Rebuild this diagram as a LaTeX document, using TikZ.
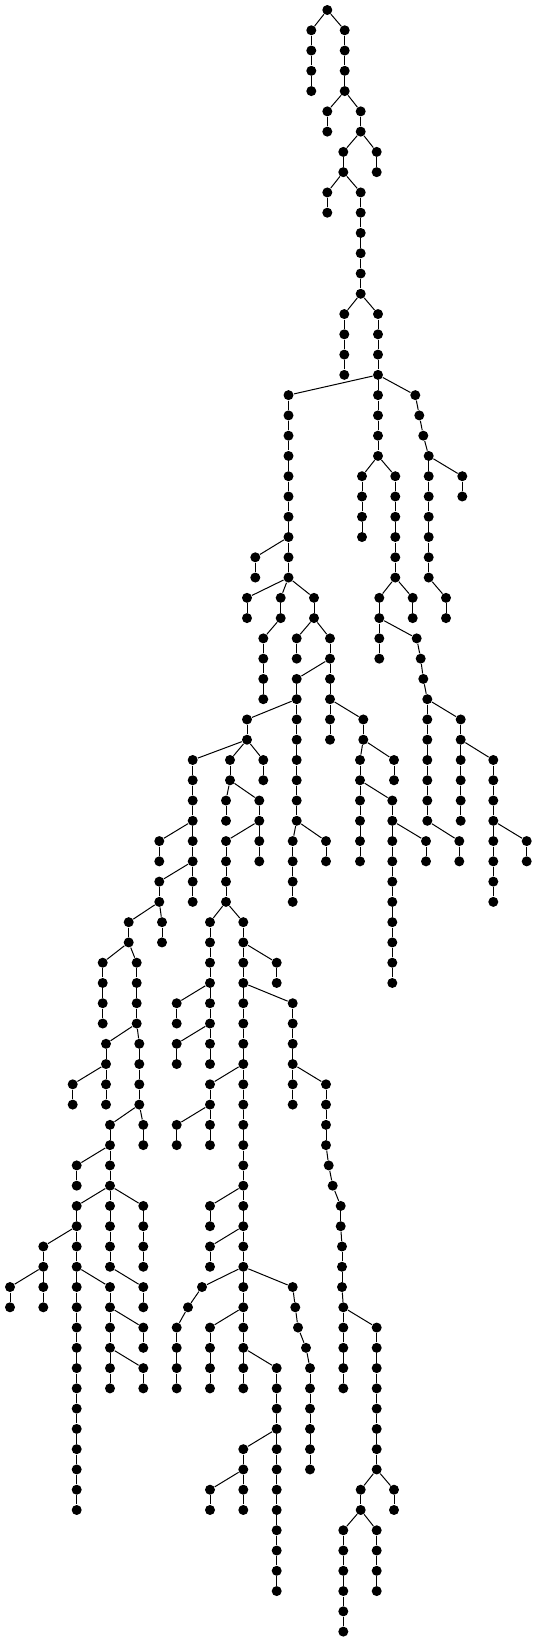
\documentclass[tikz,border=0pt]{standalone}
\begin{document}
\begin{tikzpicture}[x=1pt, y=-20.27pt, line width=1pt,
  dot/.style={circle, fill=black, inner sep=0pt, minimum size=10pt}]
\useasboundingbox (0pt,10pt) rectangle (536pt,-1632pt);
\node[dot] (r) at (327.3,0) {};
\foreach \n/\x/\a/\b/\p in {
  a/311.3/1/4/r, b/344.7/1/4/r, c/327.3/5/6/b4, d/360.7/5/6/b4,
  e/376.7/7/8/d6, f/343.3/7/8/d6, g/327.3/9/10/f8, h/360.7/9/14/f8,
  i/344.3/15/18/h14, j/378/15/18/h14,
  k/288.5/19/28/j18, m/378/19/22/j18,
  p/415.3/19/19/j18, p/419.3/20/20/p19, p/423.3/21/21/p20, p/428.7/22/28/p21,
  pa/462.3/23/24/p22, pb/446/29/30/p28,
  q/362/23/26/m22, s/395.3/23/28/m22, t/412.7/29/30/s28, u/379.3/29/32/s28,
  v/416.7/31/31/u30, v/420.7/32/32/v31, v/423.3/33/33/v32, v/427.3/34/40/v33,
  w/459.3/41/42/v40, x/460.7/35/40/v34, y/493.3/37/44/x36, z/526.7/41/42/y40,
  kk/255.3/27/28/k26, l/247/29/30/k28, n/280.7/29/30/k28, nb/263.3/31/34/n30,
  o/314/29/30/k28, oa/296.7/31/32/o30, ob/330/31/36/o30,
  pc/296.7/33/40/ob32, pd/292.7/41/44/pc40, pe/326/41/42/pc40,
  qa/363.3/35/36/ob34, qb/360/37/42/qa36, ra/394/37/38/qa36,
  sa/392.3/39/48/qb38, ta/426/41/42/sa40,
  ua/247/35/36/pc34, wa/192.7/37/44/ua36, xa/230/37/38/ua36, ya/263.3/37/38/ua36,
  xb/226/39/40/xa38, za/259.3/39/42/xa38, zb/226/41/44/za40,
  ba/210/45/52/zb44, bb/176.7/49/50/ba48, bc/176.7/51/52/ba50,
  mm/243.3/45/68/zb44, na/276.7/47/48/mm46, oc/292.7/49/54/mm48,
  ga/326/53/56/oc52, ga/328.7/57/57/ga56, ga/332.7/58/58/ga57, ga/340.7/59/60/ga58,
  ga/342/61/63/ga60, ga/343.3/64/68/ga63,
  ha/376.7/65/72/ga64, ia/394/73/74/ha72, hb/360.7/73/74/ha72,
  ja/343.3/75/80/hb74, ka/376.7/75/78/hb74,
  da/210/53/56/mm52, db/176.7/55/56/da54, ea/210/59/60/mm58, eb/210/61/62/mm60,
  fa/202/63/63/mm62, fa/188/64/64/fa63, fa/176.7/65/68/fa64,
  la/292.7/63/63/mm62, la/295.3/64/64/la63, la/298/65/65/la64, la/306/66/66/la65,
  la/310/67/72/la66,
  ca/210/65/68/mm64, ab/276.7/67/78/mm66, ac/243.3/71/74/ab70, ad/210/73/74/ac72,
  wb/159.3/41/42/wa40, wc/159.3/43/44/wa42, wd/162/45/46/wc44, we/128.7/45/46/wc44,
  wf/102.7/47/50/we46, wg/136.7/47/50/we46, wh/139.3/51/54/wg50,
  wi/106/51/54/wg50, wj/72.7/53/54/wi52,
  wk/143.3/55/56/wh54, wl/110/55/62/wh54, wm/76.7/57/58/wl56,
  wn/76.7/59/74/wl58, wo/143.3/59/62/wl58, wp/143.3/63/64/wl62,
  wq/43.3/61/64/wn60, wr/10/63/64/wq62,
  ws/110/63/68/wn62, wt/143.3/65/66/ws64, wu/143.3/67/68/ws66}{
  \node[dot] (\n\a) at (\x,\a) {};
  \draw (\p) -- (\n\a);
  \ifnum\b>\a
    \pgfmathtruncatemacro\c{\a+1}
    \foreach \l in {\c,...,\b}{
      \pgfmathtruncatemacro\q{\l-1}
      \node[dot] (\n\l) at (\x,\l) {};
      \draw (\n\q) -- (\n\l);
    }
  \fi
}
\end{tikzpicture}
\end{document}
